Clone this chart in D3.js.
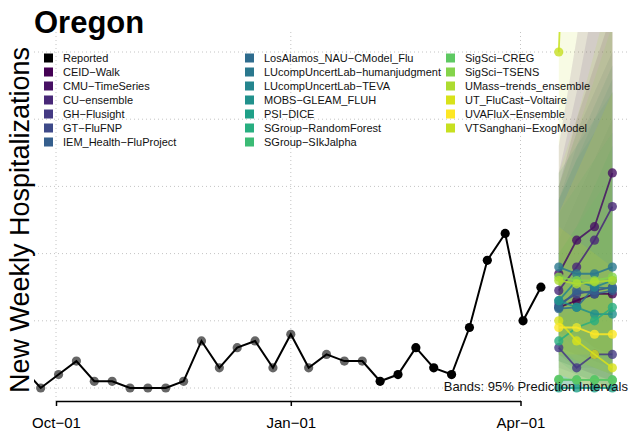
<!DOCTYPE html>
<html><head><meta charset="utf-8">
<script src="https://cdn.jsdelivr.net/npm/d3@7"></script>
<style>body{margin:0;background:#fff}svg{display:block;font-family:"Liberation Sans",Arial,sans-serif}</style>
</head><body><svg id="c" width="629" height="435"></svg>
<script>
// ---- data ----
const reportedStart = "2022-09-18";
const reportedValues = [3,0,2,4,1,1,0,0,0,1,7,3,6,7,3,8,3,5,4,4,1,2,6,3,2,9,19,23,10,15];
const recentFrom = "2023-02-05";
const forecastDates = ["2023-04-16","2023-04-23","2023-04-30","2023-05-07"];
const models = ["CEID−Walk","CMU−TimeSeries","CU−ensemble","GH−Flusight","GT−FluFNP","IEM_Health−FluProject",
  "LosAlamos_NAU−CModel_Flu","LUcompUncertLab−humanjudgment","LUcompUncertLab−TEVA","MOBS−GLEAM_FLUH","PSI−DICE",
  "SGroup−RandomForest","SGroup−SIkJalpha","SigSci−CREG","SigSci−TSENS","UMass−trends_ensemble",
  "UT_FluCast−Voltaire","UVAFluX−Ensemble","VTSanghani−ExogModel"];
const modelColors = ["#440154","#471164","#482878","#443A83","#3E4A89","#355F8D","#2F6C8E","#2A788E","#25858E",
  "#21918C","#1FA088","#28AE80","#3BBB75","#5EC962","#84D44B","#ADDC30","#D8E219","#FDE725","#C7E020"];
const medians = [
  [12,13,14,14],[17,22,24,32],[14.5,18,22,27],[6,3,5,5],[12.5,14,14.5,15],[12,14.5,14,14.5],
  [11.8,12,15,14.8],[18,17,17,18],[13,16,15,16],[13,12,11,11],[0,0,0,0],
  [7,9,10,12],[1.2,1.2,1.2,1.2],[1.3,1.2,1.2,1.2],[16.5,16,16,16.5],[16,15.5,15.8,16],
  [10,7,5,3],[9,9,8,8],[50,120,150,180]];
const lowers = [
  [5,3,2,1],[8,8,6,5],[6,5,4,3],[0,0,0,0],[4,3,2,1],[3,2,1,0],[4,3,3,2],[8,6,5,4],[5,4,3,2],
  [4,2,1,0],[0,0,0,0],[1,1,1,1],[0,0,0,0],[0,0,0,0],[5,4,3,2],[6,4,3,2],[2,1,0,0],[2,1,0,0],[5,5,5,5]];
const uppers = [
  [30,40,48,56],[36,52,70,95],[32,44,58,75],[22,28,34,40],[30,38,44,50],[28,36,42,48],[28,34,40,46],
  [32,36,40,44],[28,34,38,44],[26,30,34,38],[20,24,28,32],[20,24,30,36],[10,12,14,16],[14,18,22,26],
  [30,38,46,54],[32,40,50,60],[24,22,20,18],[26,32,38,44],[110,180,240,300]];
const xTicks = ["2022-10-01","2023-01-01","2023-04-01"];
const xTickLabels = ["Oct−01","Jan−01","Apr−01"];
const yGrid = [0,10,20,30,40,50];
const legendCols = [
  ["Reported","CEID−Walk","CMU−TimeSeries","CU−ensemble","GH−Flusight","GT−FluFNP","IEM_Health−FluProject"],
  ["LosAlamos_NAU−CModel_Flu","LUcompUncertLab−humanjudgment","LUcompUncertLab−TEVA","MOBS−GLEAM_FLUH","PSI−DICE","SGroup−RandomForest","SGroup−SIkJalpha"],
  ["SigSci−CREG","SigSci−TSENS","UMass−trends_ensemble","UT_FluCast−Voltaire","UVAFluX−Ensemble","VTSanghani−ExogModel"]];
const title = "Oregon";
const yTitle = "New Weekly Hospitalizations";
const note = "Bands: 95% Prediction Intervals";

// ---- setup ----
const parse = d3.utcParse("%Y-%m-%d");
const svg = d3.select("#c");
const x = d3.scaleUtc().domain([parse(xTicks[0]), parse(xTicks[2])]).range([56, 520.5]);
const y = d3.scaleLinear().domain([0, 50]).range([388, 52]);
const clip = {x0: 34, x1: 629, y0: 32, y1: 401};
svg.append("defs").append("clipPath").attr("id","pc").append("rect")
  .attr("x",clip.x0).attr("y",clip.y0).attr("width",clip.x1-clip.x0).attr("height",clip.y1-clip.y0);

const reported = reportedValues.map((v,i)=>({date: d3.utcDay.offset(parse(reportedStart), 7*i), value: v}));
const fDates = forecastDates.map(parse);
const colorOf = d3.scaleOrdinal().domain(["Reported", ...models]).range(["#000000", ...modelColors]);

// gridlines
const grid = svg.append("g").attr("stroke","#c4c4c4").attr("stroke-dasharray","1,3").attr("stroke-width",1);
grid.selectAll("line.h").data(yGrid).join("line").attr("class","h")
  .attr("x1",clip.x0).attr("x2",clip.x1).attr("y1",d=>y(d)).attr("y2",d=>y(d));
grid.selectAll("line.v").data(xTicks).join("line").attr("class","v")
  .attr("x1",d=>x(parse(d))).attr("x2",d=>x(parse(d))).attr("y1",clip.y0).attr("y2",clip.y1);

const plot = svg.append("g").attr("clip-path","url(#pc)");

// ribbons
const area = d3.area().x((d,i)=>x(fDates[i])).y0(d=>y(d[0])).y1(d=>y(d[1]));
models.forEach((m,k)=>{
  const band = fDates.map((d,i)=>[lowers[k][i], uppers[k][i]]);
  plot.append("path").datum(band).attr("d",area).attr("fill",colorOf(m)).attr("fill-opacity",0.12);
});
// forecast lines and points
const line = d3.line().x((d,i)=>x(fDates[i])).y(d=>y(d));
models.forEach((m,k)=>{
  plot.append("path").datum(medians[k]).attr("d",line).attr("fill","none")
    .attr("stroke",colorOf(m)).attr("stroke-width",1.8).attr("stroke-opacity",0.85);
  plot.selectAll(null).data(medians[k]).join("circle")
    .attr("cx",(d,i)=>x(fDates[i])).attr("cy",d=>y(d)).attr("r",4.6)
    .attr("fill",colorOf(m)).attr("fill-opacity",0.8);
});

// reported
const recent = parse(recentFrom);
plot.selectAll("circle.old").data(reported.filter(d=>d.date<recent)).join("circle").attr("class","old")
  .attr("cx",d=>x(d.date)).attr("cy",d=>y(d.value)).attr("r",4.6).attr("fill","#666");
plot.append("path").datum(reported).attr("fill","none").attr("stroke","#000").attr("stroke-width",2)
  .attr("d",d3.line().x(d=>x(d.date)).y(d=>y(d.value)));
plot.selectAll("circle.new").data(reported.filter(d=>d.date>=recent)).join("circle").attr("class","new")
  .attr("cx",d=>x(d.date)).attr("cy",d=>y(d.value)).attr("r",4.6).attr("fill","#000");

// x axis
const ax = svg.append("g").attr("transform","translate(0,401)")
  .call(d3.axisBottom(x).tickValues(xTicks.map(parse)).tickSize(5).tickSizeOuter(0)
    .tickFormat((d,i)=>xTickLabels[i]));
ax.select(".domain").attr("stroke","#000").attr("stroke-width",1.5);
ax.selectAll(".tick line").attr("stroke","#000").attr("stroke-width",1.5);
ax.selectAll(".tick text").attr("font-size",15).attr("fill","#000").attr("dy",0).attr("y",27)
  .attr("font-family","'Liberation Sans',Arial,sans-serif");

// note
svg.append("text").attr("x",628).attr("y",391).attr("text-anchor","end").attr("font-size",13)
  .attr("fill","#111").text(note);

// titles
svg.append("text").attr("x",34).attr("y",33).attr("font-size",31).attr("font-weight","bold").text(title);
svg.append("text").attr("transform","translate(29,220) rotate(-90)").attr("text-anchor","middle")
  .attr("font-size",27).text(yTitle);

// legend
const colX = [44, 245, 446];
legendCols.forEach((col,ci)=>{
  const g = svg.append("g");
  col.forEach((name,ri)=>{
    const cy = 58 + ri*14;
    g.append("rect").attr("x",colX[ci]).attr("y",cy-4.5).attr("width",9).attr("height",9).attr("fill",colorOf(name));
    g.append("text").attr("x",colX[ci]+19).attr("y",cy+4).attr("font-size",11).attr("fill","#111").text(name);
  });
});
</script></body></html>
